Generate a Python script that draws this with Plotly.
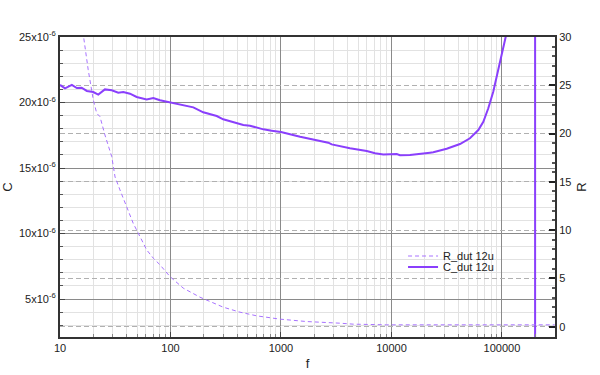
import plotly.graph_objects as go

# ---- data ----
f_C = [10, 11.1, 12.8, 14.2, 15.7, 17.5, 20, 22.2, 25.5, 29.4, 33.7, 37.4, 43, 49.4,
       60.9, 69.9, 80.4, 98.9, 130, 161, 198, 262, 300, 456, 524, 692, 824, 1000,
       1490, 2100, 2680, 2880, 4210, 5970, 7100, 8440, 11150, 11940, 14700, 22300,
       23900, 31600, 41700, 51300, 61100, 67800, 75200, 83400, 92500, 102800, 108000,
       130000, 160000, 199000, 200000, 250000, 300000]
C_uF = [21.34, 21.08, 21.34, 21.1, 21.13, 20.88, 20.8, 20.6, 21.0, 20.93, 20.75, 20.8,
        20.67, 20.42, 20.24, 20.34, 20.17, 20.0, 19.83, 19.63, 19.25, 18.97, 18.72,
        18.28, 18.23, 17.95, 17.85, 17.75, 17.39, 17.14, 16.93, 16.8, 16.5, 16.3,
        16.12, 16.04, 16.07, 15.97, 15.99, 16.17, 16.2, 16.47, 16.83, 17.27, 17.9,
        18.53, 19.56, 20.82, 22.48, 24.26, 25.0, 32, 50, 1000, -1000, -100, -50]
C_vals = [v * 1e-6 for v in C_uF]

f_R = [10, 12.5, 15, 16.5, 18, 20, 21.5, 23, 25.5, 29.4, 31.5, 34.9, 40.1, 46, 53,
       60.9, 69.9, 80.4, 98.9, 130.5, 185, 300, 426, 603, 980, 1710, 3420, 4510,
       9050, 20000, 50000, 100000, 200000, 300000]
R_vals = [50, 40, 33, 29.7, 26.6, 23.5, 22.1, 21.75, 19.86, 17.6, 15.5, 14.16, 12.43,
          10.7, 9.32, 7.95, 7.09, 6.4, 5.19, 3.99, 3.05, 2.02, 1.5, 1.12, 0.78, 0.53,
          0.36, 0.26, 0.19, 0.19, 0.19, 0.19, 0.19, 0.19]

x_tickvals = [10, 100, 1000, 10000, 100000]
x_ticktext = ["10", "100", "1000", "10000", "100000"]
c_tickvals = [5e-6, 10e-6, 15e-6, 20e-6, 25e-6]
c_ticktext = ["5x10<sup>-6</sup>", "10x10<sup>-6</sup>", "15x10<sup>-6</sup>",
              "20x10<sup>-6</sup>", "25x10<sup>-6</sup>"]
r_tickvals = [0, 5, 10, 15, 20, 25, 30]

FONT = "Liberation Sans, Arial, sans-serif"

fig = go.Figure()
fig.add_trace(go.Scatter(x=f_R, y=R_vals, yaxis="y2", mode="lines", name="R_dut 12u",
                         legend="legend",
                         line=dict(color="#a873ff", width=1, dash="4px,3px")))
fig.add_trace(go.Scatter(x=f_C, y=C_vals, yaxis="y", mode="lines", name="C_dut 12u",
                         legend="legend2",
                         line=dict(color="#8a3ffc", width=2)))

legend_common = dict(xanchor="left", yanchor="middle", bgcolor="rgba(0,0,0,0)",
                     font=dict(size=11, color="#222"), itemwidth=30, borderwidth=0)

fig.update_layout(
    width=600, height=375,
    margin=dict(l=60, r=45, t=37, b=38, autoexpand=False),
    paper_bgcolor="white", plot_bgcolor="white",
    font=dict(family=FONT, size=11, color="#222"),
    showlegend=True,
    legend=dict(x=0.693, y=0.27, **legend_common),
    legend2=dict(x=0.693, y=0.233, **legend_common),
    xaxis=dict(type="log", range=[1, 5.48], tickvals=x_tickvals, ticktext=x_ticktext,
               automargin=False,
               showgrid=True, gridcolor="#8a8a8a", gridwidth=1,
               ticks="inside", ticklen=5, tickcolor="#444",
               showline=True, linecolor="#333", linewidth=2, mirror=True,
               minor=dict(dtick="D1", showgrid=True, gridcolor="#e2e2e2",
                          ticks="inside", ticklen=3, tickcolor="#888"),
               title=dict(text="f", font=dict(size=13), standoff=6),
               zeroline=False),
    yaxis=dict(range=[2.1e-6, 25e-6], tickvals=c_tickvals, ticktext=c_ticktext,
               automargin=False,
               showgrid=True, gridcolor="#8a8a8a", gridwidth=1,
               ticks="inside", ticklen=5, tickcolor="#444",
               showline=True, linecolor="#333", linewidth=2,
               minor=dict(tick0=0, dtick=1e-6, showgrid=True, gridcolor="#e2e2e2",
                          ticks="inside", ticklen=3, tickcolor="#555"),
               title=dict(text="C", font=dict(size=13), standoff=4),
               zeroline=False),
    yaxis2=dict(overlaying="y", side="right", range=[-1.07, 30], tickvals=r_tickvals,
                automargin=False,
                showgrid=True, gridcolor="#b0b0b0", griddash="5px,3px", gridwidth=1,
                ticks="inside", ticklen=6, tickcolor="#222", tickwidth=2,
                showline=True, linecolor="#333", linewidth=2,
                minor=dict(tick0=0, dtick=1, ticks="inside", ticklen=3, tickcolor="#555",
                           showgrid=False),
                title=dict(text="R", font=dict(size=13), standoff=6),
                zeroline=False),
)

fig.write_html("out.html", config={"displayModeBar": False},
               post_script="document.body.style.margin='0px';document.body.style.padding='0px';")
